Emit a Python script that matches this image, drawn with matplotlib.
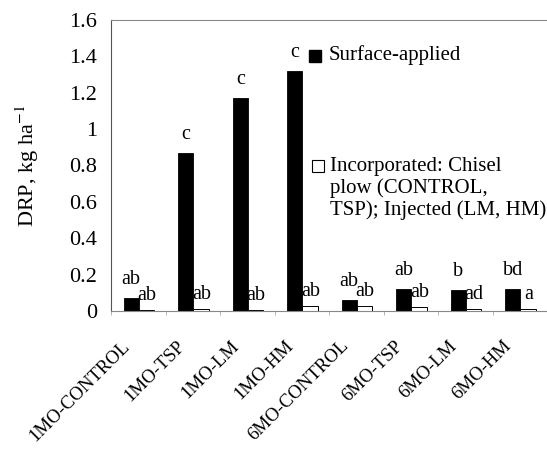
import numpy as np
import matplotlib
matplotlib.use("Agg")
import matplotlib.pyplot as plt
from matplotlib.patches import Rectangle
from matplotlib.transforms import ScaledTranslation

plt.rcParams['font.family'] = ['Liberation Serif', 'DejaVu Serif']
plt.rcParams['mathtext.fontset'] = 'stix'

categories = ['1MO-CONTROL', '1MO-TSP', '1MO-LM', '1MO-HM',
              '6MO-CONTROL', '6MO-TSP', '6MO-LM', '6MO-HM']
surface = [0.07, 0.87, 1.17, 1.32, 0.06, 0.12, 0.115, 0.12]
incorporated = [0.005, 0.01, 0.005, 0.025, 0.025, 0.02, 0.01, 0.008]
surface_letters = ['ab', 'c', 'c', 'c', 'ab', 'ab', 'b', 'bd']
incorporated_letters = ['ab', 'ab', 'ab', 'ab', 'ab', 'ab', 'ad', 'a']
yticks = [0, 0.2, 0.4, 0.6, 0.8, 1, 1.2, 1.4, 1.6]
ytick_labels = ['0', '0.2', '0.4', '0.6', '0.8', '1', '1.2', '1.4', '1.6']

fig = plt.figure(figsize=(5.47, 4.5), dpi=100)
ax = fig.add_axes([0.203, 0.309, 0.797, 0.647])

x = np.arange(len(categories))
w = 0.28
ax.bar(x - 0.13, surface, w, color='black', edgecolor='black', lw=0.6)
ax.bar(x + 0.15, incorporated, w, color='white', edgecolor='black', lw=0.7)

for xi, v, s in zip(x, surface, surface_letters):
    ax.annotate(s, (xi - 0.13, v), xytext=(0, 10), textcoords='offset points',
                ha='center', va='baseline', fontsize=14.5)
for xi, v, s in zip(x, incorporated, incorporated_letters):
    ax.annotate(s, (xi + 0.16, v), xytext=(0, 7.5), textcoords='offset points',
                ha='center', va='baseline', fontsize=14.5)

ax.set_xlim(-0.5, len(categories) - 0.5)
ax.set_ylim(0, 1.6)
ax.set_yticks(yticks)
ax.set_yticklabels(ytick_labels, fontsize=16)
ax.tick_params(axis='y', length=0, pad=10)

ax.set_xticks(x)
ax.set_xticklabels(categories, fontsize=13.5)
ax.tick_params(axis='x', which='major', length=0, pad=19)
off = ScaledTranslation(-12 / 72, 0, fig.dpi_scale_trans)
for lab in ax.get_xticklabels():
    lab.set_rotation(45)
    lab.set_ha('right')
    lab.set_va('top')
    lab.set_rotation_mode('anchor')
    lab.set_transform(lab.get_transform() + off)
ax.set_xticks(np.arange(len(categories) + 1) - 0.5, minor=True)
ax.tick_params(axis='x', which='minor', length=3, color='#aaaaaa', width=0.6)

ax.set_ylabel('DRP, kg ha$^{-1}$', fontsize=16)
ax.yaxis.set_label_coords(-0.16, 0.5)

ax.spines['right'].set_visible(False)
ax.spines['left'].set_color('#555555')
ax.spines['left'].set_linewidth(0.8)
for side in ['top', 'bottom']:
    ax.spines[side].set_color('#888888')
    ax.spines[side].set_linewidth(0.8)
    ax.spines[side].set_linestyle((0, (5, 1)))

# legend keys drawn by hand so the square sits on the first text line
ax.add_patch(Rectangle((0.454, 0.856), 0.028, 0.041, transform=ax.transAxes,
                       facecolor='black', edgecolor='black', clip_on=False))
ax.text(0.499, 0.878, 'Surface-applied', transform=ax.transAxes,
        fontsize=15, va='center', ha='left')
ax.add_patch(Rectangle((0.461, 0.478), 0.028, 0.041, transform=ax.transAxes,
                       facecolor='white', edgecolor='black', lw=0.8, clip_on=False))
ax.text(0.502, 0.53, 'Incorporated: Chisel\nplow (CONTROL,\nTSP); Injected (LM, HM)',
        transform=ax.transAxes, fontsize=15, va='top', ha='left', linespacing=1.15)

fig.savefig('out.png', dpi=100)
